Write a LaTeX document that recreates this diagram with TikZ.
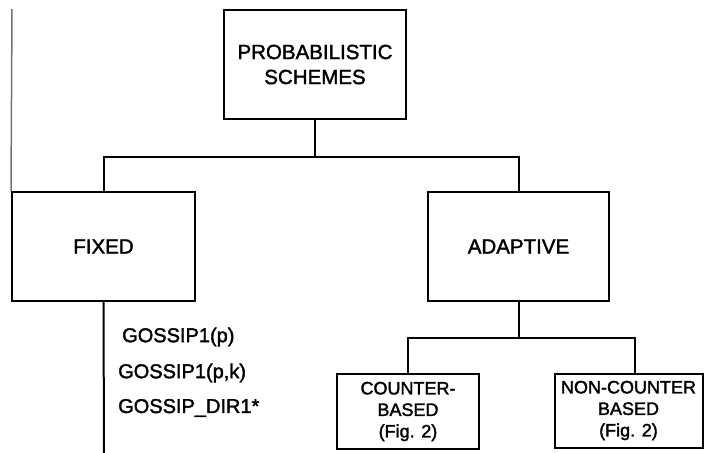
\documentclass[tikz,border=0pt]{standalone}
\usepackage{fontspec}
\setmainfont{Liberation Sans}
\newfontfamily\heavy[FakeBold=1.8]{Liberation Sans}
\begin{document}
\begin{tikzpicture}[x=1pt,y=-1pt,
  bigbox/.style={draw=black,line width=2pt,minimum width=182pt,minimum height=109pt,align=center,inner sep=0pt,font=\heavy\fontsize{20.5}{25}\selectfont},
  smallbox/.style={draw=black,line width=2pt,align=center,inner sep=0pt,font=\heavy\fontsize{18}{21.5}\selectfont},
  item/.style={anchor=west,inner sep=0pt,font=\heavy\fontsize{20}{24}\selectfont},
  link/.style={draw=black,line width=2pt}]
\useasboundingbox (0,0) rectangle (705,453);
\node[bigbox] (prob) at (315,64.5) {PROBABILISTIC\\SCHEMES};
\node[bigbox,minimum width=183pt] (fixed) at (103.5,246.5) {FIXED};
\node[bigbox,minimum width=181pt] (adapt) at (518.5,246.5) {ADAPTIVE};
\node[smallbox,minimum width=142pt,minimum height=75pt] (counter) at (408,411.5) {COUNTER-\\BASED\\(Fig. 2)};
\node[smallbox,minimum width=148pt,minimum height=74pt] (noncounter) at (628.5,410.5) {NON-COUNTER\\BASED\\(Fig. 2)};
\node[item] (g1) at (122,337) {GOSSIP1(p)};
\node[item] (g2) at (118,373) {GOSSIP1(p,k)};
\node[item] (g3) at (118,408) {GOSSIP\_DIR1*};
\coordinate (top) at (12,9);
\coordinate (bottom) at (104,453);
\draw[link] (prob.south) -- ++(0,37) -| (fixed.north);
\draw[link] (prob.south) -- ++(0,37) -| (adapt.north);
\draw[link] (adapt.south) -- ++(0,36) -| (counter.north);
\draw[link] (adapt.south) -- ++(0,36) -| ([xshift=6.5pt]noncounter.north);
\draw[link] (fixed.south) -- (bottom);
\draw[black!55,line width=1.5pt] (top) -- (fixed.north west);
\end{tikzpicture}
\end{document}
